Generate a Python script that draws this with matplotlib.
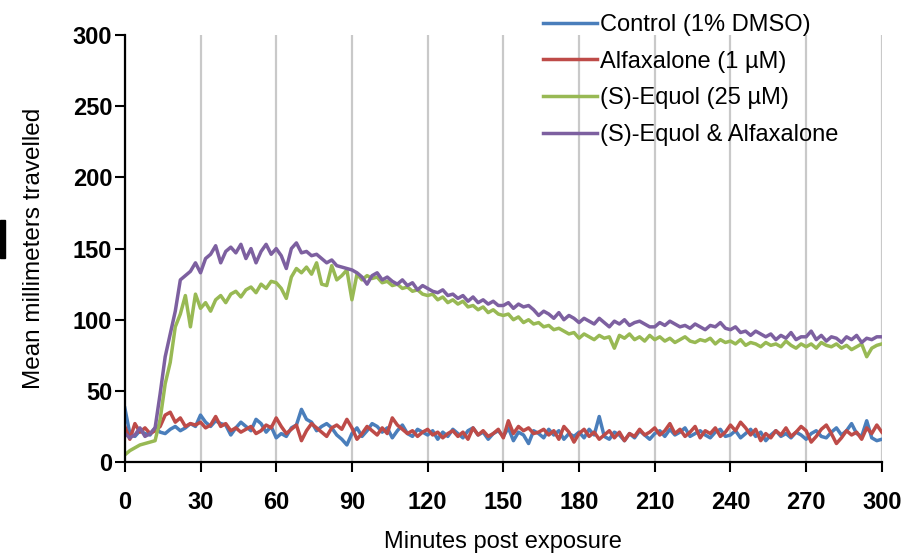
import matplotlib
matplotlib.use("Agg")
import matplotlib.pyplot as plt
from matplotlib.patches import Rectangle
import numpy as np

plt.rcParams['font.family'] = ['Liberation Sans', 'DejaVu Sans']

# minutes, one reading every 2 min
minutes = np.arange(0, 301, 2)

control = [
    38, 20, 18, 22, 20, 19, 24, 21, 20, 23, 25, 22, 24, 27, 25,
    33, 28, 25, 29, 27, 26, 19, 24, 28, 25, 22, 30, 27, 21, 25,
    17, 20, 18, 24, 26, 37, 30, 28, 22, 25, 27, 24, 19, 16, 12,
    20, 24, 18, 22, 27, 25, 21, 24, 17, 22, 26, 20, 18, 23, 21,
    19, 22, 16, 21, 18, 23, 20, 17, 22, 24, 19, 21, 16, 20, 22,
    18, 24, 15, 21, 19, 13, 22, 20, 17, 23, 19, 22, 16, 20, 18,
    21, 17, 23, 19, 32, 18, 16, 21, 19, 15, 20, 17, 22, 19, 16,
    20, 22, 18, 23, 19, 21, 24, 18, 20, 22, 19, 17, 21, 23, 18,
    19, 22, 17, 20, 23, 18, 21, 15, 19, 22, 18, 20, 17, 21, 19,
    16, 20, 22, 18, 17, 21, 24, 19, 22, 27, 20, 18, 29, 17, 15,
    16,
]

alfaxalone = [
    25, 16, 27, 21, 24, 20, 22, 25, 33, 35, 28, 31, 25, 27, 26,
    28, 24, 26, 32, 25, 27, 22, 24, 21, 23, 25, 20, 22, 26, 24,
    31, 25, 20, 23, 26, 15, 22, 27, 24, 21, 18, 24, 26, 23, 30,
    24, 16, 20, 25, 22, 19, 24, 20, 31, 26, 23, 20, 22, 18, 21,
    23, 19, 21, 17, 20, 22, 18, 21, 16, 24, 19, 22, 18, 20, 23,
    17, 29, 20, 25, 22, 24, 20, 21, 23, 19, 22, 16, 25, 21, 14,
    20, 23, 18, 21, 16, 19, 22, 17, 21, 15, 20, 18, 23, 19, 21,
    24, 19, 22, 27, 20, 23, 18, 21, 25, 17, 22, 20, 24, 18, 21,
    26, 22, 28, 24, 19, 23, 15, 20, 17, 22, 19, 24, 18, 21, 25,
    22, 14, 18, 23, 26, 20, 13, 17, 22, 19, 21, 16, 24, 20, 26,
    21,
]

equol = [
    5, 8, 10, 12, 13, 14, 15, 30, 55, 70, 95, 104, 117, 95, 118,
    108, 112, 106, 114, 117, 112, 118, 120, 116, 121, 123, 119, 125, 122, 127,
    126, 122, 115, 130, 136, 133, 137, 132, 140, 125, 124, 138, 128, 131, 135,
    114, 132, 128, 131, 129, 130, 126, 127, 124, 125, 122, 123, 120, 121, 118,
    117, 118, 114, 116, 112, 114, 111, 113, 109, 110, 107, 109, 105, 107, 104,
    103, 104, 100, 102, 98, 100, 97, 98, 95, 96, 93, 94, 92, 90, 91,
    87, 90, 88, 86, 89, 87, 88, 80, 89, 87, 90, 86, 88, 85, 89,
    86, 88, 85, 87, 84, 86, 88, 85, 84, 86, 85, 87, 83, 86, 84,
    85, 83, 86, 82, 84, 83, 81, 84, 82, 83, 81, 85, 82, 80, 83,
    81, 83, 80, 84, 82, 81, 83, 80, 82, 79, 81, 83, 74, 80, 82,
    83,
]

equol_alfax = [
    20, 17, 19, 24, 18, 20, 24, 48, 74, 90, 106, 128, 131, 134, 140,
    133, 143, 146, 152, 140, 148, 151, 147, 153, 143, 150, 140, 148, 153, 146,
    150, 145, 136, 150, 154, 147, 148, 145, 146, 143, 140, 142, 138, 137, 136,
    135, 133, 130, 125, 131, 133, 128, 130, 127, 125, 128, 124, 126, 121, 124,
    122, 120, 119, 121, 117, 118, 115, 117, 113, 116, 112, 114, 111, 113, 110,
    110, 112, 108, 111, 109, 110, 107, 103, 106, 104, 101, 105, 100, 103, 101,
    98, 101, 99, 97, 101, 98, 95, 99, 97, 100, 96, 98, 99, 97, 95,
    95, 98, 96, 99, 97, 95, 96, 94, 97, 95, 93, 96, 95, 98, 94,
    93, 95, 91, 92, 89, 92, 90, 88, 90, 86, 89, 87, 91, 86, 88,
    88, 92, 86, 89, 85, 88, 87, 84, 88, 86, 89, 84, 87, 86, 88,
    88,
]

labels = ['Control (1% DMSO)', 'Alfaxalone (1 µM)', '(S)-Equol (25 µM)', '(S)-Equol & Alfaxalone']
colors = ['#4a7ebb', '#be4b48', '#98b954', '#7d60a0']

fig = plt.figure(figsize=(9.11, 5.58), dpi=100)
ax = fig.add_axes([0.137, 0.172, 0.831, 0.765])

for y, lab, c in zip([control, alfaxalone, equol, equol_alfax], labels, colors):
    ax.plot(minutes, y, color=c, lw=2.5, label=lab, solid_joinstyle='round')

ax.set_xlim(0, 300)
ax.set_ylim(0, 300)
ax.set_xticks(range(0, 301, 30))
ax.set_yticks(range(0, 301, 50))
ax.xaxis.grid(True, color='#c9c9c9', lw=1.6)
ax.set_axisbelow(True)

for s in ['top', 'right']:
    ax.spines[s].set_visible(False)
for s in ['left', 'bottom']:
    ax.spines[s].set_linewidth(1.6)
    ax.spines[s].set_color('black')

ax.tick_params(axis='both', direction='out', length=7, width=1.5, labelsize=17)
ax.tick_params(axis='x', pad=14)
ax.tick_params(axis='y', pad=2)
for t in ax.get_xticklabels() + ax.get_yticklabels():
    t.set_fontweight('bold')

ax.set_xlabel('Minutes post exposure', fontsize=17, labelpad=12)
ax.set_ylabel('Mean millimeters travelled', fontsize=17.5, labelpad=20)

fig.legend(loc='upper left', bbox_to_anchor=(0.5857, 0.992), frameon=False,
           fontsize=17, handlelength=2.3, handletextpad=0.1, labelspacing=0.62,
           borderaxespad=0)

# cropped panel letter at the far left edge
fig.patches.append(Rectangle((0, 1 - 258 / 558), 5 / 911, 38 / 558,
                             transform=fig.transFigure, color='black'))

fig.savefig('out.png', dpi=100)
